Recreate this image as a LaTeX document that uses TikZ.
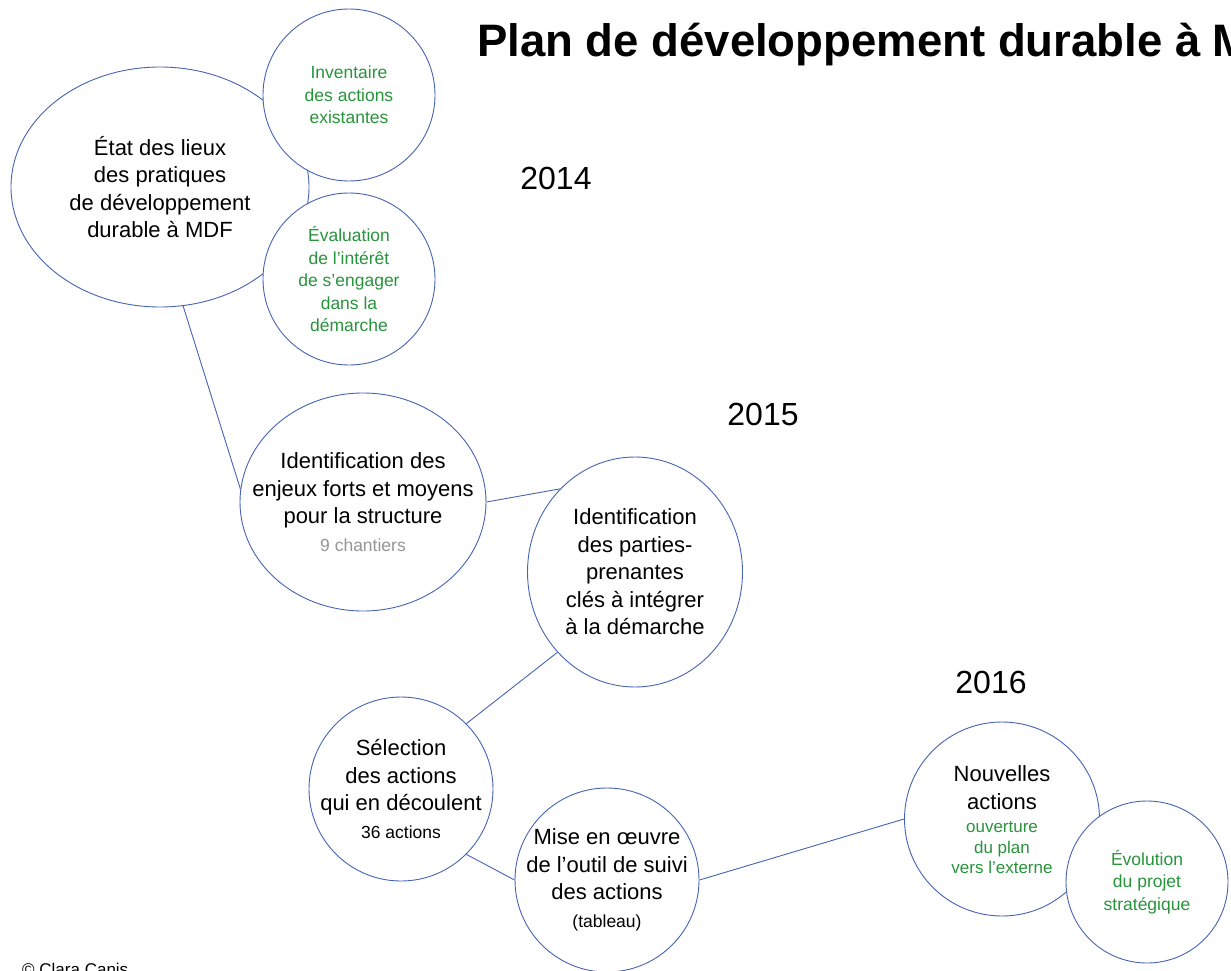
\documentclass[tikz,border=0pt]{standalone}
\usepackage{fontspec}
\setmainfont{Liberation Sans}
\usetikzlibrary{shapes.geometric}
\definecolor{linec}{RGB}{70,100,180}
\definecolor{greent}{RGB}{40,148,60}
\definecolor{grayt}{RGB}{150,150,150}
\newcommand{\bigf}{\fontsize{22}{27.5}\selectfont}
\newcommand{\smallf}{\fontsize{17.5}{22.5}\selectfont}
\newcommand{\gsm}[1]{{\fontsize{17}{20.5}\selectfont\color{greent}#1}}
\begin{document}
\begin{tikzpicture}[x=1pt,y=-1pt,
  bub/.style={shape=ellipse, draw=linec, fill=white, line width=0.9pt, inner sep=0pt},
  conn/.style={draw=linec, line width=0.9pt},
  maintxt/.style={align=center, inner sep=0pt, font=\bigf, text=black},
  greentxt/.style={align=center, inner sep=0pt, font=\smallf, text=greent},
  yeartxt/.style={inner sep=0pt, font=\fontsize{32}{38}\selectfont}]
\useasboundingbox (0,0) rectangle (1231,971);
\clip (0,0) rectangle (1231,971);
\fill[white] (0,0) rectangle (1231,971);

% shapes
\node[bub, minimum width=298pt, minimum height=240pt] (etat) at (160,187) {};
\node[bub, minimum width=172pt, minimum height=172pt] (inv) at (349,95) {};
\node[bub, minimum width=172pt, minimum height=172pt] (eval) at (349,279) {};
\node[bub, minimum width=246pt, minimum height=218pt] (enj) at (363,502) {};
\node[bub, minimum width=215pt, minimum height=230pt] (part) at (635,572) {};
\node[bub, minimum width=184pt, minimum height=184pt] (sel) at (401,789) {};
\node[bub, minimum width=184pt, minimum height=184pt] (mise) at (607,880) {};
\node[bub, minimum width=195pt, minimum height=194pt] (nouv) at (1002,819) {};
\node[bub, minimum width=162pt, minimum height=162pt] (evol) at (1147,882) {};

% connectors
\draw[conn] (etat.-79) -- (enj.174);
\draw[conn] (enj.0) -- (part.132);
\draw[conn] (part.226) -- (sel.45);
\draw[conn] (sel.-45) -- (mise.180);
\draw[conn] (mise.0) -- (nouv.180.5);

% texts
\node[maintxt] (etatT) at (etat) {État des lieux\\des pratiques\\de développement\\durable à MDF};
\node[greentxt] (invT) at (inv) {Inventaire\\des actions\\existantes};
\node[greentxt] (evalT) at (eval) {Évaluation\\de l’intérêt\\de s’engager\\dans la\\démarche};
\node[maintxt] (enjT) at (enj) {Identification des\\enjeux forts et moyens\\pour la structure\\{\smallf\color{grayt}9 chantiers}};
\node[maintxt] (partT) at (part) {Identification\\des parties-\\prenantes\\clés à intégrer\\à la démarche};
\node[maintxt] (selT) at (sel) {Sélection\\des actions\\qui en découlent\\{\smallf 36 actions}};
\node[maintxt] (miseT) at (mise) {Mise en œuvre\\de l’outil de suivi\\des actions\\{\smallf (tableau)}};
\node[maintxt] (nouvT) at ([yshift=-1pt]nouv.center) {Nouvelles\\actions\\[-4pt]\gsm{ouverture}\\[-7pt]\gsm{du plan}\\[-7pt]\gsm{vers l’externe}};
\node[greentxt] (evolT) at (evol) {Évolution\\du projet\\stratégique};

% title, years, credit
\node[anchor=base west, inner sep=0pt, font=\fontsize{45.5}{50}\selectfont\bfseries] (title) at (477,57) {Plan de développement durable à MDF};
\node[yeartxt] (y2014) at (556,178) {2014};
\node[yeartxt] (y2015) at (763,414) {2015};
\node[yeartxt] (y2016) at (991,682) {2016};
\node[anchor=base west, inner sep=0pt, font=\fontsize{17}{20}\selectfont] (credit) at (22,975) {© Clara Canis};
\end{tikzpicture}
\end{document}
